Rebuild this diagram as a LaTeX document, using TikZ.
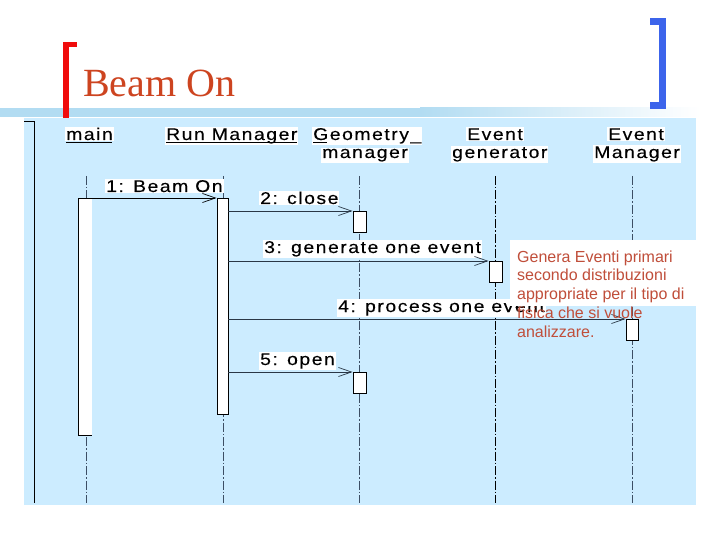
\documentclass[tikz,border=0pt]{standalone}
\usepackage{fontspec}
\setmainfont{Liberation Serif}
\setsansfont{Liberation Sans}
\newfontfamily\umlfont[LetterSpace=9,FakeStretch=1.14,FakeBold=0.15]{Liberation Sans}
\newfontfamily\notefont{Liberation Sans}
\usetikzlibrary{arrows.meta}
\definecolor{diagbg}{RGB}{204,236,255}
\definecolor{bandblue}{RGB}{178,220,242}
\definecolor{titlered}{RGB}{205,68,32}
\definecolor{brred}{RGB}{240,12,12}
\definecolor{brblue}{RGB}{60,100,235}
\definecolor{notered}{RGB}{192,78,58}
\definecolor{lifegray}{RGB}{60,78,100}
\tikzset{
  uml/.style={font=\umlfont\fontsize{17}{18}\selectfont, fill=white, inner sep=1pt, anchor=base west, text=black},
  act/.style={draw=black, fill=white, line width=0.9pt, inner sep=0pt, anchor=north},
  life/.style={draw=lifegray, line width=0.7pt, dash pattern=on 9pt off 2pt on 1.5pt off 2pt},
  msg/.style={draw=lifegray!70!black, line width=0.7pt, -{Straight Barb[length=13pt,width=9pt,line width=0.7pt]}},
  notetext/.style={font=\notefont\fontsize{16}{19}\selectfont, text=notered, inner sep=0pt, anchor=base west},
  ul/.style={draw=black, line width=0.8pt}
}
\begin{document}
\begin{tikzpicture}[x=1pt,y=-1pt]
\useasboundingbox[fill=white] (0,0) rectangle (720,540);
% title band
\fill[bandblue] (0,108) rectangle (420,117);
\shade[left color=bandblue, right color=white] (420,108) rectangle (700,117);
% brackets
\fill[brred] (63,42) rectangle (69,119);
\fill[brred] (63,42) rectangle (77,47);
\fill[brblue] (659,18) rectangle (666,109);
\fill[brblue] (650,18) rectangle (666,25);
\fill[brblue] (650,102) rectangle (666,109);
\node[font=\fontsize{40}{42}\selectfont, text=titlered, inner sep=0pt, anchor=base west] (title) at (83,97) {Beam On};
% diagram background
\fill[diagbg] (24,118) rectangle (696,505);
\coordinate (b1) at (24,121);
\coordinate (b2) at (34,121);
\coordinate (b3) at (34,503);
\draw[black, line width=0.9pt] (b1) -- (b2) -- (b3);
% headers
\node[uml] (hmain) at (65,140) {main};
\node[uml] (hrm) at (165,140) {Run Manager};
\node[uml] (hgm1) at (312,140) {Geometry\_};
\node[uml] (hgm2) at (321,158) {manager};
\node[uml] (heg1) at (466,140) {Event};
\node[uml] (heg2) at (451,158) {generator};
\node[uml] (hem1) at (607,140) {Event};
\node[uml] (hem2) at (593,158) {Manager};
\draw[ul] ([xshift=1pt,yshift=-2pt]hmain.base west) -- ([xshift=-2pt,yshift=-2pt]hmain.base east);
\draw[ul] ([xshift=1pt,yshift=-2pt]hrm.base west) -- ([xshift=-2pt,yshift=-2pt]hrm.base east);
\draw[ul] ([xshift=1pt,yshift=-2pt]hgm1.base west) -- ([xshift=15pt,yshift=-2pt]hgm1.base west);
% lifelines
\foreach \n/\x in {main/86, rm/223, gm/359, em/632} {
  \coordinate (\n top) at (\x,176);
  \coordinate (\n bot) at (\x,503);
  \draw[life] (\n top) -- (\n bot);
}
\coordinate (egtop) at (495,176);
\coordinate (egbot) at (495,503);
\draw[life, draw=black, line width=0.9pt] (egtop) -- (egbot);
% activation boxes
\node[act, draw=none, minimum width=13pt, minimum height=237pt] (amain) at (85.5,198) {};
\draw[black, line width=0.9pt] (amain.north east) -- (amain.north west) -- (amain.south west) -- (amain.south east);
\node[act, minimum width=11pt, minimum height=216pt] (arm) at (222.5,198) {};
\node[act, minimum width=13pt, minimum height=21pt] (agm1) at (359.5,211) {};
\node[act, minimum width=13pt, minimum height=21pt] (agm2) at (359.5,372) {};
\node[act, minimum width=13pt, minimum height=21pt] (aeg) at (495.5,261) {};
\node[act, minimum width=12pt, minimum height=21pt] (aem) at (632,319) {};
% message labels
\node[uml] (m1) at (105,192) {1: Beam On};
\node[uml] (m2) at (259,204) {2: close};
\node[uml] (m3) at (263,253) {3: generate one event};
\node[uml] (m4) at (337,312) {4: process one event};
\node[uml] (m5) at (259,365) {5: open};
% messages
\draw[msg, draw=black] (amain.north east) -- (arm.north west);
\draw[msg] (arm.east |- agm1.north west) -- (agm1.north west);
\draw[msg] (arm.east |- aeg.north west) -- (aeg.north west);
\draw[msg] (arm.east |- aem.north west) -- (aem.north west);
\draw[msg] (arm.east |- agm2.north west) -- (agm2.north west);
% note
\fill[white] (510,240) rectangle (696,306);
\node[notetext] (n1) at (517,262) {Genera Eventi primari};
\node[notetext] (n2) at (517,280.75) {secondo distribuzioni};
\node[notetext] (n3) at (517,299.5) {appropriate per il tipo di};
\node[notetext] (n4) at (517,318.25) {fisica che si vuole};
\node[notetext] (n5) at (517,337) {analizzare.};
\end{tikzpicture}
\end{document}
